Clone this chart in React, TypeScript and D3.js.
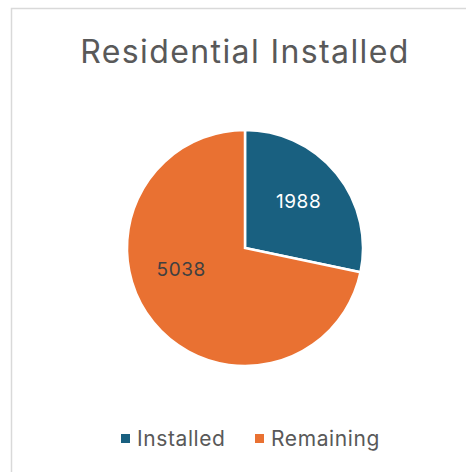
import React from "react";
import * as d3 from "d3";

const title = "Residential Installed";
const categories = ["Installed", "Remaining"];
const values = [1988, 5038];
const colors = ["#196080", "#E97132"];
const labelColors = ["#FFFFFF", "#404040"];

export default function App() {
  const W = 466, H = 472;
  const cx = 245, cy = 248, r = 118;
  const pie = d3.pie<number>().sort(null).startAngle(0).endAngle(2 * Math.PI)(values);
  const arc = d3.arc<d3.PieArcDatum<number>>().innerRadius(0).outerRadius(r);
  // label placement (Excel best-fit): radius fraction and angular offset per slice
  const labelR = [0.6, 0.57];
  const labelShift = [-0.03, 0.36];
  const font = "Inter, 'Open Sans', sans-serif";
  const legendX = [121, 255];
  return (
    <div style={{ position: "absolute", left: 0, top: 0 }}>
      <svg width={W} height={H} style={{ display: "block" }}>
        <rect x={0} y={0} width={W} height={H} fill="#ffffff" />
        <rect x={11.5} y={8.5} width={480} height={480} fill="none" stroke="#D9D9D9" strokeWidth={1.5} />
        <text x={cx} y={63} textAnchor="middle" fontFamily={font} fontSize={32} letterSpacing={1.4} fill="#595959">{title}</text>
        <g transform={`translate(${cx},${cy})`}>
          {pie.map((d, i) => (
            <path key={i} d={arc(d) || ""} fill={colors[i]} stroke="#ffffff" strokeWidth={2.5} strokeLinejoin="miter" />
          ))}
          {pie.map((d, i) => {
            const a = (d.startAngle + d.endAngle) / 2 + labelShift[i];
            const rr = r * labelR[i];
            const lx = rr * Math.sin(a), ly = -rr * Math.cos(a);
            return (
              <text key={"l" + i} x={lx} y={ly} dy="0.35em" textAnchor="middle" fontFamily={font} fontSize={19} letterSpacing={0.6} fill={labelColors[i]}>
                {values[i]}
              </text>
            );
          })}
        </g>
        {categories.map((c, i) => (
          <g key={c}>
            <rect x={legendX[i]} y={434} width={9} height={9} fill={colors[i]} />
            <text x={legendX[i] + 16} y={446} fontFamily={font} fontSize={21} letterSpacing={0.6} fill="#595959">{c}</text>
          </g>
        ))}
      </svg>
    </div>
  );
}
